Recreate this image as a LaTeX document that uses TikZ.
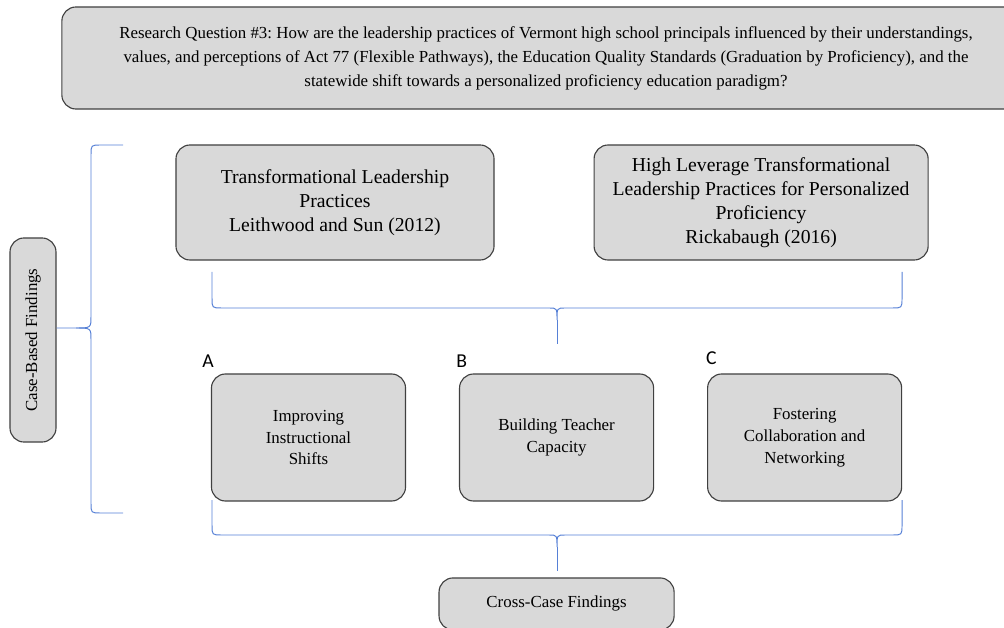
\documentclass[tikz,border=0pt]{standalone}
\usepackage{fontspec}
\setmainfont{Liberation Serif}
\newfontfamily\labelfont{Carlito}
\usetikzlibrary{positioning}
\definecolor{boxgray}{RGB}{217,217,217}
\definecolor{edgegray}{RGB}{64,64,64}
\definecolor{braceblue}{RGB}{86,128,214}
\tikzstyle{box} = [rectangle, rounded corners=10pt, draw=edgegray, line width=0.8pt, fill=boxgray, text centered, align=center, inner sep=0pt]
\tikzstyle{bigbox} = [box, minimum width=7.95cm, minimum height=2.875cm, font=\fontsize{14}{17}\selectfont]
\tikzstyle{smallbox} = [box, minimum width=4.85cm, minimum height=3.175cm, font=\fontsize{12}{15.6}\selectfont]
\tikzstyle{tag} = [font=\labelfont\fontsize{14}{14}\selectfont, inner sep=0pt]
\tikzstyle{brace} = [draw=braceblue, line width=0.7pt]
\frenchspacing

\begin{document}
\begin{tikzpicture}[x=0.025cm, y=-0.025cm]
\useasboundingbox (0,0) rectangle (1004,628);
\clip (0,0) rectangle (1004,628);

\node (question) [box, minimum width=24.2cm, minimum height=2.55cm, font=\fontsize{12}{17}\selectfont] at (546,58) {Research Question \#3: How are the leadership practices of Vermont high school principals influenced by their understandings,\\values, and perceptions of Act 77 (Flexible Pathways), the Education Quality Standards (Graduation by Proficiency), and the\\statewide shift towards a personalized proficiency education paradigm?};

\node (cbf) [box, rotate=90, minimum width=5.1cm, minimum height=1.15cm, font=\fontsize{12}{14}\selectfont] at (33,340) {Case-Based Findings};

\node (leith) [bigbox] at (335,202.5) {Transformational Leadership\\Practices\\Leithwood and Sun (2012)};
\node (rick) [bigbox, right of=leith, node distance=10.65cm, minimum width=8.35cm] {High Leverage Transformational\\Leadership Practices for Personalized\\Proficiency\\Rickabaugh (2016)};

\node (instr) [smallbox] at (308.5,437.5) {Improving\\Instructional\\Shifts};
\node (capac) [smallbox, right of=instr, node distance=6.2cm] {Building Teacher\\Capacity};
\node (collab) [smallbox, right of=capac, node distance=6.2cm] {Fostering\\Collaboration and\\Networking};

\node (taga) [tag, above=4pt, xshift=-2pt] at (instr.north west) {A};
\node (tagb) [tag, above=4pt, xshift=2pt] at (capac.north west) {B};
\node (tagc) [tag, above=6pt, xshift=3pt] at (collab.north west) {C};

\node (cross) [box, below of=capac, node distance=4.16cm, minimum width=5.875cm, minimum height=1.3cm, font=\fontsize{12}{14}\selectfont] {Cross-Case Findings};

% braces
\coordinate (lbtop) at (123,145);
\coordinate (lbbot) at (123,513);
\coordinate (lbtip) at (cbf.south |- 0,328);
\draw [brace] (lbtop) -- (101,145) .. controls (91,145) .. (91,155) -- (91,316)
  .. controls (91,328) .. (76,328) -- (lbtip);
\draw [brace] (lbbot) -- (101,513) .. controls (91,513) .. (91,503) -- (91,340)
  .. controls (91,328) .. (76,328);

\coordinate (b1tip) at (557,344);
\draw [brace] (212,272) -- (212,298) .. controls (212,308) .. (222,308) -- (549,308)
  .. controls (557,308) .. (557,320) .. controls (557,308) .. (565,308) -- (892,308)
  .. controls (902,308) .. (902,298) -- (902,272);
\draw [brace] (557,320) -- (b1tip);

\coordinate (b2tip) at (557,571);
\draw [brace] (212,500) -- (212,525) .. controls (212,535) .. (222,535) -- (549,535)
  .. controls (557,535) .. (557,547) .. controls (557,535) .. (565,535) -- (892,535)
  .. controls (902,535) .. (902,525) -- (902,500);
\draw [brace] (557,547) -- (b2tip);
\end{tikzpicture}
\end{document}
